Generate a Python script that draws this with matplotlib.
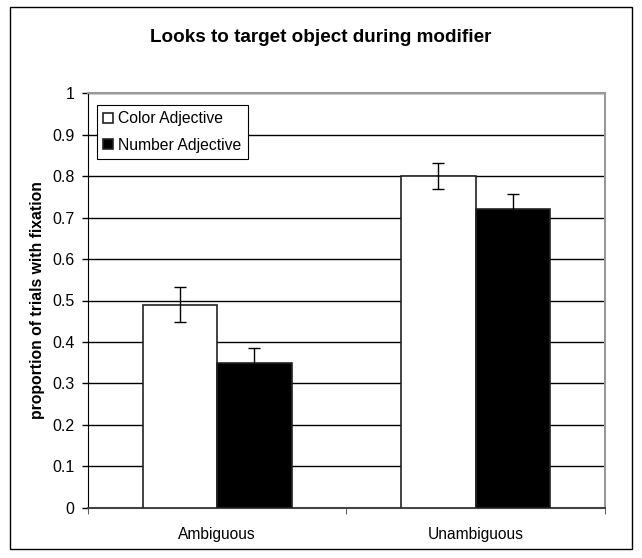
import matplotlib.pyplot as plt
import numpy as np
from matplotlib.patches import Rectangle

plt.rcParams['font.family'] = ['Liberation Sans', 'DejaVu Sans']

categories = ['Ambiguous', 'Unambiguous']
color_adj = [0.49, 0.80]
color_err = [0.043, 0.032]
number_adj = [0.35, 0.72]
number_err = [0.035, 0.036]

fig = plt.figure(figsize=(6.42, 5.58), dpi=100)
ax = fig.add_axes([87.7 / 642, 1 - 507.7 / 558, 517.3 / 642, 414.4 / 558])

# outer chart frame
fig.patches.append(Rectangle((10 / 642, 9 / 558), 622 / 642, 542 / 558,
                             transform=fig.transFigure, fill=False,
                             edgecolor='black', linewidth=1))

x = np.arange(len(categories))
w = 0.288
ax.bar(x - w / 2, color_adj, w, yerr=color_err, color='white', edgecolor='#222222',
       linewidth=1.2, label='Color Adjective', zorder=3,
       error_kw=dict(ecolor='black', elinewidth=1, capsize=4, capthick=1, zorder=4))
ax.bar(x + w / 2, number_adj, w, yerr=number_err, color='black', edgecolor='#222222',
       linewidth=1.2, label='Number Adjective', zorder=3,
       error_kw=dict(ecolor='black', elinewidth=1, capsize=4, capthick=1, zorder=4))

ax.set_xlim(-0.5, 1.5)
ax.set_ylim(0, 1)
ax.set_yticks(np.arange(0, 1.01, 0.1))
ax.set_yticklabels(['0', '0.1', '0.2', '0.3', '0.4', '0.5', '0.6', '0.7', '0.8', '0.9', '1'])
ax.yaxis.grid(True, color='black', linewidth=1)
ax.set_axisbelow(True)
ax.set_xticks(x)
ax.set_xticklabels(categories)
ax.set_xticks([-0.5, 0.5, 1.5], minor=True)
ax.tick_params(axis='x', which='major', length=0, pad=14, labelsize=11.2)
ax.tick_params(axis='x', which='minor', length=4, color='#444444')
ax.tick_params(axis='y', length=4, width=1, labelsize=11.5, pad=5.5)

ax.spines['top'].set_color('#999999')
ax.spines['right'].set_color('#999999')
ax.spines['top'].set_linewidth(1.5)
ax.spines['right'].set_linewidth(1.5)
ax.spines['left'].set_color('black')
ax.spines['bottom'].set_color('#444444')
ax.spines['bottom'].set_linewidth(1.5)

ax.set_ylabel('proportion of trials with fixation', fontsize=11.3, fontweight='bold', labelpad=5)
fig.suptitle('Looks to target object during modifier', fontsize=13.6, fontweight='bold',
             y=1 - 38 / 558, va='center')

leg = ax.legend(loc='upper left', bbox_to_anchor=(0.018, 0.972), fancybox=False,
                edgecolor='black', framealpha=1, fontsize=11.3, handlelength=0.6,
                handleheight=0.6, handletextpad=0.35, labelspacing=0.75,
                borderpad=0.4, borderaxespad=0)
leg.get_frame().set_linewidth(0.8)

fig.savefig('out.png', dpi=100)
